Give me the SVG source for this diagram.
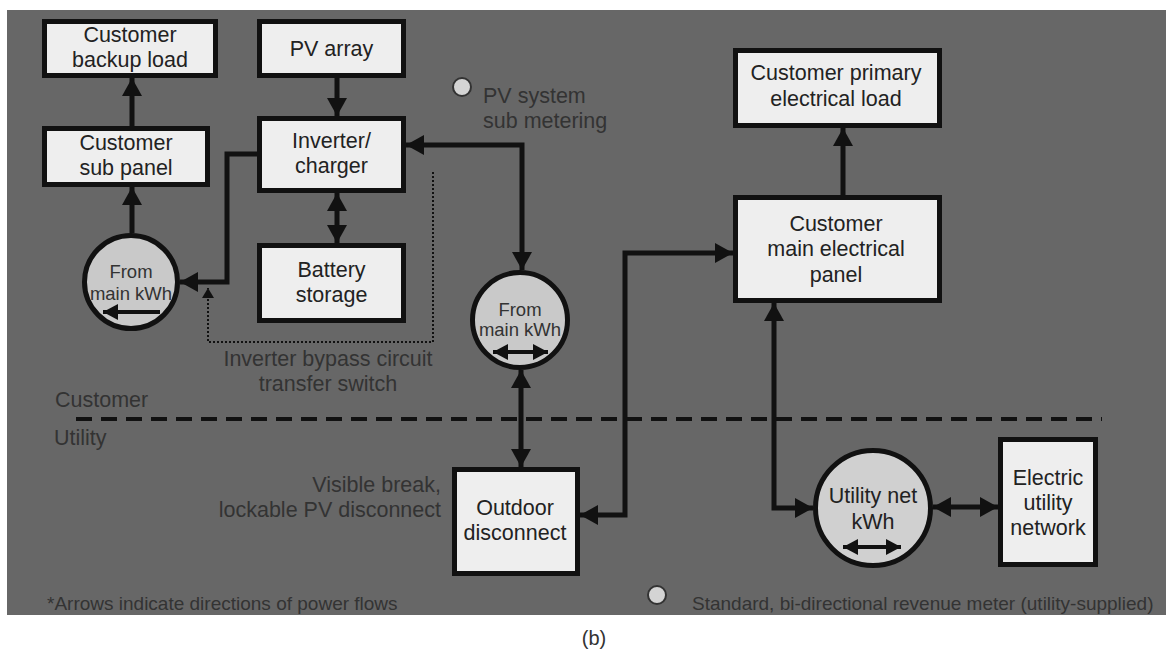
<svg xmlns="http://www.w3.org/2000/svg" width="1166" height="654" viewBox="0 0 1166 654">
<defs>
<style>
text{font-family:"Liberation Sans",Arial,sans-serif;}
.box{fill:#eeeeee;stroke:#111;stroke-width:5;}
.meter{fill:#c9c9c9;stroke:#111;stroke-width:5;}
.bt{font-size:21.5px;fill:#222;text-anchor:middle;}
.mt{font-size:18.5px;fill:#333;text-anchor:middle;}
.lbl{font-size:21.5px;fill:#333;}
.note{font-size:19px;fill:#333;}
.wire{fill:none;stroke:#111;stroke-width:5;}
.inner{fill:none;stroke:#111;stroke-width:4;}
.legend{fill:#d4d4d4;stroke:#333;stroke-width:2;}
</style>
<marker id="ah" viewBox="0 0 18 20" markerWidth="18" markerHeight="20" markerUnits="userSpaceOnUse" refX="18" refY="10" orient="auto-start-reverse">
<path d="M0,0 L18,10 L0,20 Z" fill="#111"/>
</marker>
<marker id="ahs" viewBox="0 0 15 16" markerWidth="15" markerHeight="16" markerUnits="userSpaceOnUse" refX="15" refY="8" orient="auto-start-reverse">
<path d="M0,0 L15,8 L0,16 Z" fill="#111"/>
</marker>
<marker id="ahd" viewBox="0 0 10 12" markerWidth="10" markerHeight="12" markerUnits="userSpaceOnUse" refX="10" refY="6" orient="auto-start-reverse">
<path d="M0,0 L10,6 L0,12 Z" fill="#111"/>
</marker>
</defs>
<rect x="0" y="0" width="1166" height="654" fill="#ffffff"/>
<rect x="7" y="10" width="1159" height="605" fill="#676767"/>

<g id="connectors">
<path class="wire" d="M132,126 V78" marker-end="url(#ah)"/>
<path class="wire" d="M132,233 V187" marker-end="url(#ah)"/>
<path class="wire" d="M337,78 V116" marker-end="url(#ah)"/>
<path class="wire" d="M337,193 V243" marker-start="url(#ah)" marker-end="url(#ah)"/>
<path class="wire" d="M257,154 H227 V282 H180" marker-end="url(#ah)"/>
<path d="M433,172 V342 H208 V288" fill="none" stroke="#111" stroke-width="2" stroke-dasharray="2 2" marker-end="url(#ahd)"/>
<path class="wire" d="M522,270 V145 H406" marker-start="url(#ah)" marker-end="url(#ah)"/>
<path class="wire" d="M521,370 V467" marker-start="url(#ah)" marker-end="url(#ah)"/>
<path class="wire" d="M580,515 H625 V253 H733" marker-start="url(#ah)" marker-end="url(#ah)"/>
<path class="wire" d="M843,195 V128" marker-end="url(#ah)"/>
<path class="wire" d="M774,303 V508 H813" marker-start="url(#ah)" marker-end="url(#ah)"/>
<path class="wire" d="M933,507 H998" marker-start="url(#ah)" marker-end="url(#ah)"/>
<path d="M76,419 H1102" fill="none" stroke="#111" stroke-width="4" stroke-dasharray="16 9"/>
</g>

<g id="backup-load">
<rect class="box" x="44.5" y="21.5" width="171" height="54"/>
<text class="bt" x="130" y="42">Customer</text>
<text class="bt" x="130" y="67">backup load</text>
</g>
<g id="pv-array">
<rect class="box" x="259.5" y="21.5" width="144" height="54"/>
<text class="bt" x="331.5" y="56">PV array</text>
</g>
<g id="sub-panel">
<rect class="box" x="44.5" y="128.5" width="163" height="56"/>
<text class="bt" x="126" y="150">Customer</text>
<text class="bt" x="126" y="175">sub panel</text>
</g>
<g id="inverter">
<rect class="box" x="259.5" y="118.5" width="144" height="72"/>
<text class="bt" x="331.5" y="148">Inverter/</text>
<text class="bt" x="331.5" y="173">charger</text>
</g>
<g id="battery">
<rect class="box" x="259.5" y="245.5" width="144" height="75"/>
<text class="bt" x="331.5" y="277">Battery</text>
<text class="bt" x="331.5" y="302">storage</text>
</g>
<g id="primary-load">
<rect class="box" x="735.5" y="50.5" width="204" height="75"/>
<text class="bt" x="836" y="80">Customer primary</text>
<text class="bt" x="836" y="106">electrical load</text>
</g>
<g id="main-panel">
<rect class="box" x="735.5" y="197.5" width="204" height="103"/>
<text class="bt" x="836" y="231">Customer</text>
<text class="bt" x="836" y="256">main electrical</text>
<text class="bt" x="836" y="282">panel</text>
</g>
<g id="outdoor-disconnect">
<rect class="box" x="454.5" y="469.5" width="123" height="104"/>
<text class="bt" x="515" y="515">Outdoor</text>
<text class="bt" x="515" y="540">disconnect</text>
</g>
<g id="utility-network">
<rect class="box" x="1000.5" y="439.5" width="95" height="125"/>
<text class="bt" x="1048" y="485">Electric</text>
<text class="bt" x="1048" y="510">utility</text>
<text class="bt" x="1048" y="535">network</text>
</g>

<g id="sub-meter">
<circle class="meter" cx="131" cy="282" r="46.5"/>
<text class="mt" x="131" y="278">From</text>
<text class="mt" x="131" y="300">main kWh</text>
<path class="inner" d="M160,312 H103" marker-end="url(#ahs)"/>
</g>
<g id="pv-meter">
<circle class="meter" cx="520" cy="320" r="47.5"/>
<text class="mt" x="520" y="316">From</text>
<text class="mt" x="520" y="336">main kWh</text>
<path class="inner" d="M493,352 H548" marker-start="url(#ahs)" marker-end="url(#ahs)"/>
</g>
<g id="utility-meter">
<circle class="meter" cx="873" cy="508" r="57.5" style="fill:#d0d0d0"/>
<text class="bt" x="873" y="503">Utility net</text>
<text class="bt" x="873" y="529">kWh</text>
<path class="inner" d="M843,547 H901" marker-start="url(#ahs)" marker-end="url(#ahs)"/>
</g>

<g id="labels">
<circle class="legend" cx="462" cy="87" r="9"/>
<text class="lbl" x="483" y="103">PV system</text>
<text class="lbl" x="483" y="128">sub metering</text>
<text class="lbl" x="328" y="366" text-anchor="middle">Inverter bypass circuit</text>
<text class="lbl" x="328" y="391" text-anchor="middle">transfer switch</text>
<text class="lbl" x="55" y="407">Customer</text>
<text class="lbl" x="54" y="445">Utility</text>
<text class="lbl" x="441" y="492" text-anchor="end">Visible break,</text>
<text class="lbl" x="441" y="517" text-anchor="end">lockable PV disconnect</text>
<text class="note" x="47" y="610">*Arrows indicate directions of power flows</text>
<circle class="legend" cx="657" cy="595" r="9"/>
<text class="note" x="692" y="610">Standard, bi-directional revenue meter (utility-supplied)</text>
<text x="594" y="645" text-anchor="middle" style="font-size:20px;fill:#333">(b)</text>
</g>
</svg>
